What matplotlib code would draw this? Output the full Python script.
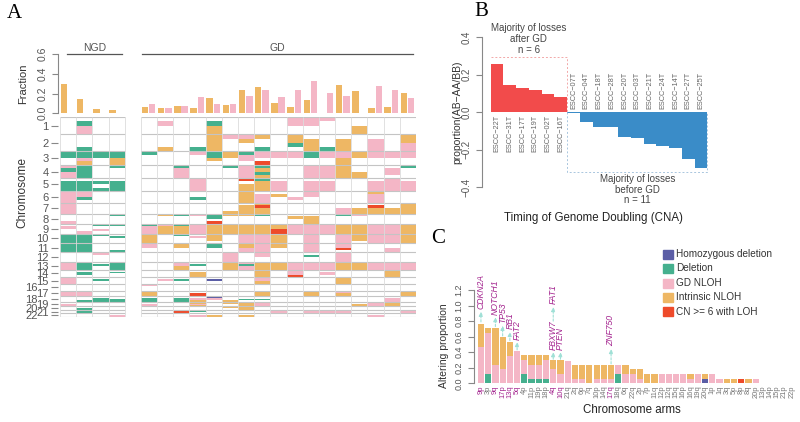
import matplotlib.pyplot as plt
import numpy as np
from matplotlib.patches import Rectangle

plt.rcParams['font.family'] = ['Liberation Sans', 'DejaVu Sans']

W, H = 800, 422

# Colours
C_HOM = '#5b5ea6'
C_DEL = '#45b08e'
C_GD = '#f4b6c6'
C_INT = '#eeb764'
C_RED = '#ee4a2a'
C_AFTER = '#f24b4b'
C_BEFORE = '#3a8cc8'
C_GENE = '#a3238e'
C_ARROW = '#9fe0d6'
GREY = '#555555'

# ---------------- Panel A data ----------------
chrom_names = [str(i) for i in range(1, 23)]
chrom_len = [249, 243, 198, 191, 181, 171, 159, 146, 141, 136, 135,
             134, 115, 107, 103, 90, 81, 78, 59, 63, 48, 51]

ngd_intrinsic = [0.30, 0.146, 0.047, 0.034]
gd_intrinsic = [0.061, 0.054, 0.075, 0.054, 0.156, 0.081, 0.237, 0.27, 0.108,
                0.068, 0.139, 0.0, 0.285, 0.23, 0.058, 0.061, 0.207]
gd_gdnloh = [0.095, 0.051, 0.078, 0.17, 0.095, 0.095, 0.176, 0.234, 0.163,
             0.234, 0.33, 0.21, 0.176, 0.007, 0.278, 0.237, 0.16]

# copy-number states per chromosome quarter: G del, P GD NLOH, O intrinsic, R CN>=6, B hom del
ngd_cna = [
    '.... .... GG.. PGPP .GGG PPPP PPPP ...P .P.. GGGG GGGG .... PPPP .... PPPP .... PPPP .... ..PP .... .... ....',
    '.GPP ...G GGPO GGGG .GGG PPG. .... .... ...P GGGG GGGG .... GGGG .GG. .... .... PPPP ...G .... ..GG GGGG ....',
    '.... .... GG.. .... .G.G .... .... .... G.P. G... .... P... .G.. .... .G.. .... P... .GGG .... .... .... ....',
    '.... .... GGOO G... .GGG .... .... G... G... .G.. ...G .... GGGG .G.. .... .... P... ..GG .... .... .... ..PP',
]
gd_cna = [
    '.... .... G... .... .... .... .... .... GPPP OOOO PP.. .... .... .... .... P... OOOO .GGG ..PP .... .... ....',
    '.P.. ...O .... .... .... .... .... O... POOO .... .... .... .... .... .P.. .... O... .... .... .... G... ....',
    '.... .... .... GPPP .... .... .... G... GOOO G... OO.. .... PPOO .... .G.. .... .... .GGG .... .... .RR. ....',
    '.... ...G P... .... PPPP ..G. .... P... PPPP .P.. .... .... .G.. .OOO .... .... ..RR .PPO POPO .... .G.. ..PP',
    '.GOO OOOO GGO. .... .... .... .... GG.R OOOO OOO. GG.. .... .... .... .B.. .... .... BPP. G... .... .... ..OO',
    '.... P... OO.. G... .... .... ...O O... OOOO .... .... PPPP OOOO .... .... .... .... ...O OO.. OO.. .... ....',
    '.... PO.. GPP. PPPP R.OO OOOO .OOO O... OOOO PPPP OOPP .... PGPP .... .... .... .... ..G. OOOO OOOO .... ..OO',
    '.... O..G PP.R GOGO GOOO .PPP OROO G... OOOO PPPP PPPP PP.. OOOO OOOO PPOO .... OOOO ..G. PPPP .... .... ....',
    '.... .... PP.. .... .PPP .O.. .... .... OORR OOOO OO.. .... OOOO .... .... .... O... .... .... .... PPPP ....',
    'PP.. OOG. PP.. .... .... ..P. .... .O.. PPPP .... .... .... PPPP PPPR .... .... .... .... .... .... .... ....',
    'PP.. .OOO GG.. PPPP .PPP PP.. .... .OOO PPPP PPPP PPPP .G.. PPPP .... .... .... OOOO .... .... .... PPPP ....',
    'P... ...G PP.. PPPP .PPP .... .... .... PPPP .... .... .... PPPP .PP. .... .... .... .... .... .... PPPP ....',
    '.... .OOO PPOO OOOO .... .... ..PP G... OOOO PPPP PPR. PPPP OOOO .... OOOO .... PPOO .... .... .... PPPP ....',
    '..OO .... OO.. ..OO .... .... ..OO P... OOOO OOO. .... .... OOOO .... .... .... .... .... ..OO .... .... ....',
    '.... .PPP PP.. .... .PPP OPPP .ROO .... PPPP PPPP .... .... PPPP .... .... .... .... .... PPPP .... .... ..PP',
    '.... .... PP.. .PP. PPPP .... ..OO .... PPPP PPPP ..PP .... PPPP OOOO .... .... .... .PPP OOOO .... .... ....',
    '.... OOPP PP.. G... .PPP .... OOOO .... OOOO OOOO .... .... PPPP .... .... .... OOOO .... .... .... PPPP ....',
]

# ---------------- Panel B data ----------------
after_samples = ['ESCC−22T', 'ESCC−31T', 'ESCC−17T', 'ESCC−19T', 'ESCC−02T', 'ESCC−16T']
after_values = [0.256, 0.144, 0.126, 0.117, 0.096, 0.082]
before_samples = ['ESCC−07T', 'ESCC−04T', 'ESCC−18T', 'ESCC−28T', 'ESCC−20T', 'ESCC−03T',
                  'ESCC−21T', 'ESCC−24T', 'ESCC−14T', 'ESCC−27T', 'ESCC−25T']
before_values = [-0.005, -0.052, -0.082, -0.082, -0.132, -0.137, -0.171, -0.18, -0.194, -0.25, -0.297]

# ---------------- Panel C data ----------------
arms = ['9p', '3p', '9q', '17p', '13q', '5q', '4p', '11p', '19p', '18p', '4q', '10q', '21q',
        '2q', '6p', '7q', '10p', '14q', '17q', '18q', '6q', '22q', '2p', '7p', '11q', '12p',
        '12q', '15q', '16p', '16q', '19q', '20q', '1p', '1q', '3q', '5p', '8p', '8q', '20p',
        '13p', '14p', '15p', '21p', '22p']
hom_del = [0] * 31 + [0.06] + [0] * 12
deletion = [0, 0.12, 0, 0, 0, 0, 0.12, 0.06, 0.06, 0.06, 0, 0, 0, 0, 0, 0, 0, 0, 0, 0.12,
            0, 0, 0, 0, 0, 0, 0, 0, 0, 0, 0, 0, 0, 0, 0, 0, 0, 0, 0, 0, 0, 0, 0, 0]
gd_nloh = [0.47, 0.53, 0.24, 0.18, 0.35, 0.41, 0.18, 0.18, 0.18, 0.24, 0.18, 0.12, 0.29,
           0.06, 0.06, 0, 0.06, 0.06, 0.06, 0.12, 0.12, 0.12, 0.06, 0, 0, 0.12, 0.12, 0.12,
           0.12, 0.06, 0.12, 0, 0.12, 0.06, 0, 0, 0, 0, 0.06, 0, 0, 0, 0, 0]
intrinsic_nloh = [0.29, 0.06, 0.47, 0.41, 0.18, 0, 0.06, 0.12, 0.12, 0.06, 0.12, 0.18, 0,
                  0.18, 0.18, 0.24, 0.18, 0.18, 0.18, 0, 0.12, 0.06, 0.12, 0.12, 0.12, 0, 0,
                  0, 0, 0.06, 0, 0.06, 0, 0, 0.06, 0.06, 0, 0.06, 0, 0, 0, 0, 0, 0]
cn6_loh = [0] * 36 + [0.06] + [0] * 7
highlight_arms = ['9p', '9q', '17p', '13q', '5q', '4q', '10q', '17q']
# gene, arm, arrow start, arrow end, text start
genes = [('CDKN2A', '9p', 0.79, 0.92, 0.96),
         ('NOTCH1', '9q', 0.73, 0.85, 0.88),
         ('TP53', '17p', 0.61, 0.74, 0.78),
         ('RB1', '13q', 0.55, 0.66, 0.70),
         ('FAT2', '5q', 0.43, 0.53, 0.56),
         ('FBXW7', '4q', 0.31, 0.40, 0.43),
         ('FAT1', '4q', 0.80, 0.98, 1.02),
         ('PTEN', '10q', 0.31, 0.40, 0.43),
         ('ZNF750', '17q', 0.25, 0.44, 0.48)]
legend_labels = ['Homozygous deletion', 'Deletion', 'GD NLOH', 'Intrinsic NLOH', 'CN >= 6 with LOH']
legend_colors = [C_HOM, C_DEL, C_GD, C_INT, C_RED]


def box(left, top, right, bottom):
    return [left / W, 1 - bottom / H, (right - left) / W, (bottom - top) / H]


def grey_axis(ax):
    for s in ['top', 'right', 'bottom']:
        ax.spines[s].set_visible(False)
    ax.spines['left'].set_color('#888888')
    ax.tick_params(axis='y', colors='#888888', labelcolor=GREY, length=4, width=0.8)


fig = plt.figure(figsize=(8, 4.22), dpi=100)

# ---------------- Panel A: fraction bars ----------------
ngd_slots = [0, 1, 2, 3]
gd_slots = list(range(5, 22))
xlim_a = (-0.14, 22)

axf = fig.add_axes(box(57.7, 54.3, 416, 113.3))
axf.bar([s + 0.05 for s in ngd_slots], ngd_intrinsic, width=0.4, align='edge', color=C_INT)
axf.bar([s + 0.05 for s in gd_slots], gd_intrinsic, width=0.4, align='edge', color=C_INT)
axf.bar([s + 0.5 for s in gd_slots], gd_gdnloh, width=0.4, align='edge', color=C_GD)
axf.set_xlim(*xlim_a)
axf.set_ylim(0, 0.6)
axf.set_xticks([])
axf.set_yticks([0, 0.2, 0.4, 0.6])
axf.set_yticklabels(['0.0', '0.2', '0.4', '0.6'], rotation=90, va='center', fontsize=7.5)
grey_axis(axf)
axf.spines['left'].set_bounds(0, 0.6)
axf.set_ylabel('Fraction', fontsize=8, color='#333333')
axf.yaxis.set_label_coords(-0.083, 0.5)
axf.plot([0.42, 3.82], [0.6, 0.6], color='#555555', lw=0.9, clip_on=False)
axf.plot([5.05, 21.84], [0.6, 0.6], color='#555555', lw=0.9, clip_on=False)
axf.text(2.12, 0.615, 'NGD', ha='center', va='bottom', fontsize=7.5, color=GREY)
axf.text(13.45, 0.615, 'GD', ha='center', va='bottom', fontsize=7.5, color=GREY)

# ---------------- Panel A: heatmap ----------------
axh = fig.add_axes(box(57.7, 117, 416, 317))
starts = np.concatenate([[0], np.cumsum(chrom_len)[:-1]])
total = float(np.sum(chrom_len))
code_colors = {'G': C_DEL, 'P': C_GD, 'O': C_INT, 'R': C_RED, 'B': C_HOM}

bx, bb, bh, bc = [], [], [], []
for slot, col in zip(ngd_slots + gd_slots, ngd_cna + gd_cna):
    for c, grp in enumerate(col.split()):
        q = chrom_len[c] / 4
        k = 0
        while k < 4:
            ch = grp[k]
            n = 1
            while k + n < 4 and grp[k + n] == ch:
                n += 1
            if ch != '.':
                bx.append(slot)
                bb.append(starts[c] + k * q)
                bh.append(n * q)
                bc.append(code_colors[ch])
            k += n
axh.bar(bx, bh, bottom=bb, width=1, align='edge', color=bc, linewidth=0)

bounds = list(starts) + [total]
axh.hlines(bounds, 0, 4, color='#c4c4c4', lw=0.8)
axh.hlines(bounds, 5, 22, color='#c4c4c4', lw=0.8)
axh.vlines(list(range(0, 5)) + list(range(5, 23)), 0, total, color='#dcdcdc', lw=0.6)
axh.set_xlim(*xlim_a)
axh.set_ylim(total, 0)
axh.set_xticks([])
for s in axh.spines.values():
    s.set_visible(False)
centers = starts + np.array(chrom_len) / 2
axh.set_yticks(centers)
axh.set_yticklabels(chrom_names, fontsize=8)
axh.tick_params(axis='y', colors='#888888', labelcolor=GREY, length=5, width=0.8, pad=1.5)
for t, name in zip(axh.yaxis.get_major_ticks(), chrom_names):
    if name in ('16', '18', '20', '22'):
        t.set_pad(9.5)
axh.set_ylabel('Chromosome', fontsize=8.5, color='#333333')
axh.yaxis.set_label_coords(-0.083, 0.62)

# ---------------- Panel B ----------------
axb = fig.add_axes(box(482, 37, 708, 187))
n_after = len(after_values)
xa = np.arange(n_after)
xb = np.arange(n_after, n_after + len(before_values))
axb.bar(xa, after_values, width=1, align='edge', color=C_AFTER, linewidth=0)
axb.bar(xb, before_values, width=1, align='edge', color=C_BEFORE, linewidth=0)
for x, name in zip(xa, after_samples):
    axb.text(x + 0.5, -0.016, name, rotation=90, ha='center', va='top', fontsize=5.3, color='#666666')
for x, name in zip(xb, before_samples):
    axb.text(x + 0.5, 0.014, name, rotation=90, ha='center', va='bottom', fontsize=5.3, color='#666666')
axb.plot([0, n_after, n_after], [0.295, 0.295, 0], ls=(0, (2, 2)), color='#f2a8a8', lw=0.7)
axb.plot([n_after, n_after, 17, 17], [0, -0.318, -0.318, 0], ls=(0, (2, 2)), color='#a9c6de', lw=0.7)
axb.text(3, 0.305, 'Majority of losses\nafter GD\nn = 6', ha='center', va='bottom',
         fontsize=7, color='#444444', linespacing=1.1)
axb.text(11.5, -0.33, 'Majority of losses\nbefore GD\nn = 11', ha='center', va='top',
         fontsize=7, color='#444444', linespacing=1.1)
axb.set_xlim(-0.68, 17.05)
axb.set_ylim(-0.4, 0.4)
axb.set_xticks([])
axb.set_yticks([-0.4, -0.2, 0, 0.2, 0.4])
axb.set_yticklabels(['−0.4', '−0.2', '0.0', '0.2', '0.4'], rotation=90, va='center', fontsize=7)
grey_axis(axb)
axb.set_ylabel('proportion(AB−AA/BB)', fontsize=7.5, color='#333333')
axb.yaxis.set_label_coords(-0.088, 0.5)
fig.text(593 / W, 1 - 218 / H, 'Timing of Genome Doubling (CNA)', ha='center', va='center',
         fontsize=8.3, color='#222222')

# ---------------- Panel C ----------------
axc = fig.add_axes(box(474, 290, 795, 383.3))
xc = np.arange(len(arms))
bottom = np.zeros(len(arms))
for vals, col in [(hom_del, C_HOM), (deletion, C_DEL), (gd_nloh, C_GD),
                  (intrinsic_nloh, C_INT), (cn6_loh, C_RED)]:
    vals = np.array(vals, dtype=float)
    axc.bar(xc, vals, bottom=bottom, width=0.86, color=col, linewidth=0)
    bottom += vals
for gene, arm, y0, y1, yt in genes:
    i = arms.index(arm)
    axc.annotate('', xy=(i, y1), xytext=(i, y0),
                 arrowprops=dict(arrowstyle='-|>', ls=(0, (2, 1.5)), color=C_ARROW,
                                 lw=0.8, mutation_scale=6, shrinkA=0, shrinkB=0),
                 annotation_clip=False)
    axc.text(i, yt, gene, rotation=90, ha='center', va='bottom', fontsize=6.2,
             style='italic', color=C_GENE, clip_on=False)
axc.set_xlim(-0.96, 43.44)
axc.set_ylim(0, 1.2)
axc.set_xticks(xc)
axc.set_xticklabels(arms, rotation=90, fontsize=5.4)
for lab, arm in zip(axc.get_xticklabels(), arms):
    lab.set_color(C_GENE if arm in highlight_arms else '#777777')
axc.tick_params(axis='x', length=0, pad=1.5)
axc.set_yticks([0, 0.2, 0.4, 0.6, 0.8, 1.0, 1.2])
axc.set_yticklabels(['0.0', '0.2', '0.4', '0.6', '0.8', '1.0', '1.2'], rotation=90,
                    va='center', fontsize=6.5)
grey_axis(axc)
axc.set_ylabel('Altering proportion', fontsize=7.5, color='#333333')
axc.yaxis.set_label_coords(-0.078, 0.4)
fig.text(632 / W, 1 - 410 / H, 'Chromosome arms', ha='center', va='center',
         fontsize=8.3, color='#222222')

# legend
for k, (lab, col) in enumerate(zip(legend_labels, legend_colors)):
    yc = [254, 268.3, 283.3, 297.3, 311.7][k]
    fig.patches.append(Rectangle((663 / W, 1 - (yc + 4.5) / H), 10 / W, 9 / H,
                                 transform=fig.transFigure, color=col, figure=fig))
    fig.text(676 / W, 1 - yc / H, lab, ha='left', va='center', fontsize=7.2, color='#333333')

# panel letters
for letter, x, y in [('A', 14, 13), ('B', 481, 12), ('C', 438, 238)]:
    fig.text(x / W, 1 - y / H, letter, ha='center', va='center', fontsize=15,
             family='Liberation Serif')

fig.savefig('out.png', dpi=100)
